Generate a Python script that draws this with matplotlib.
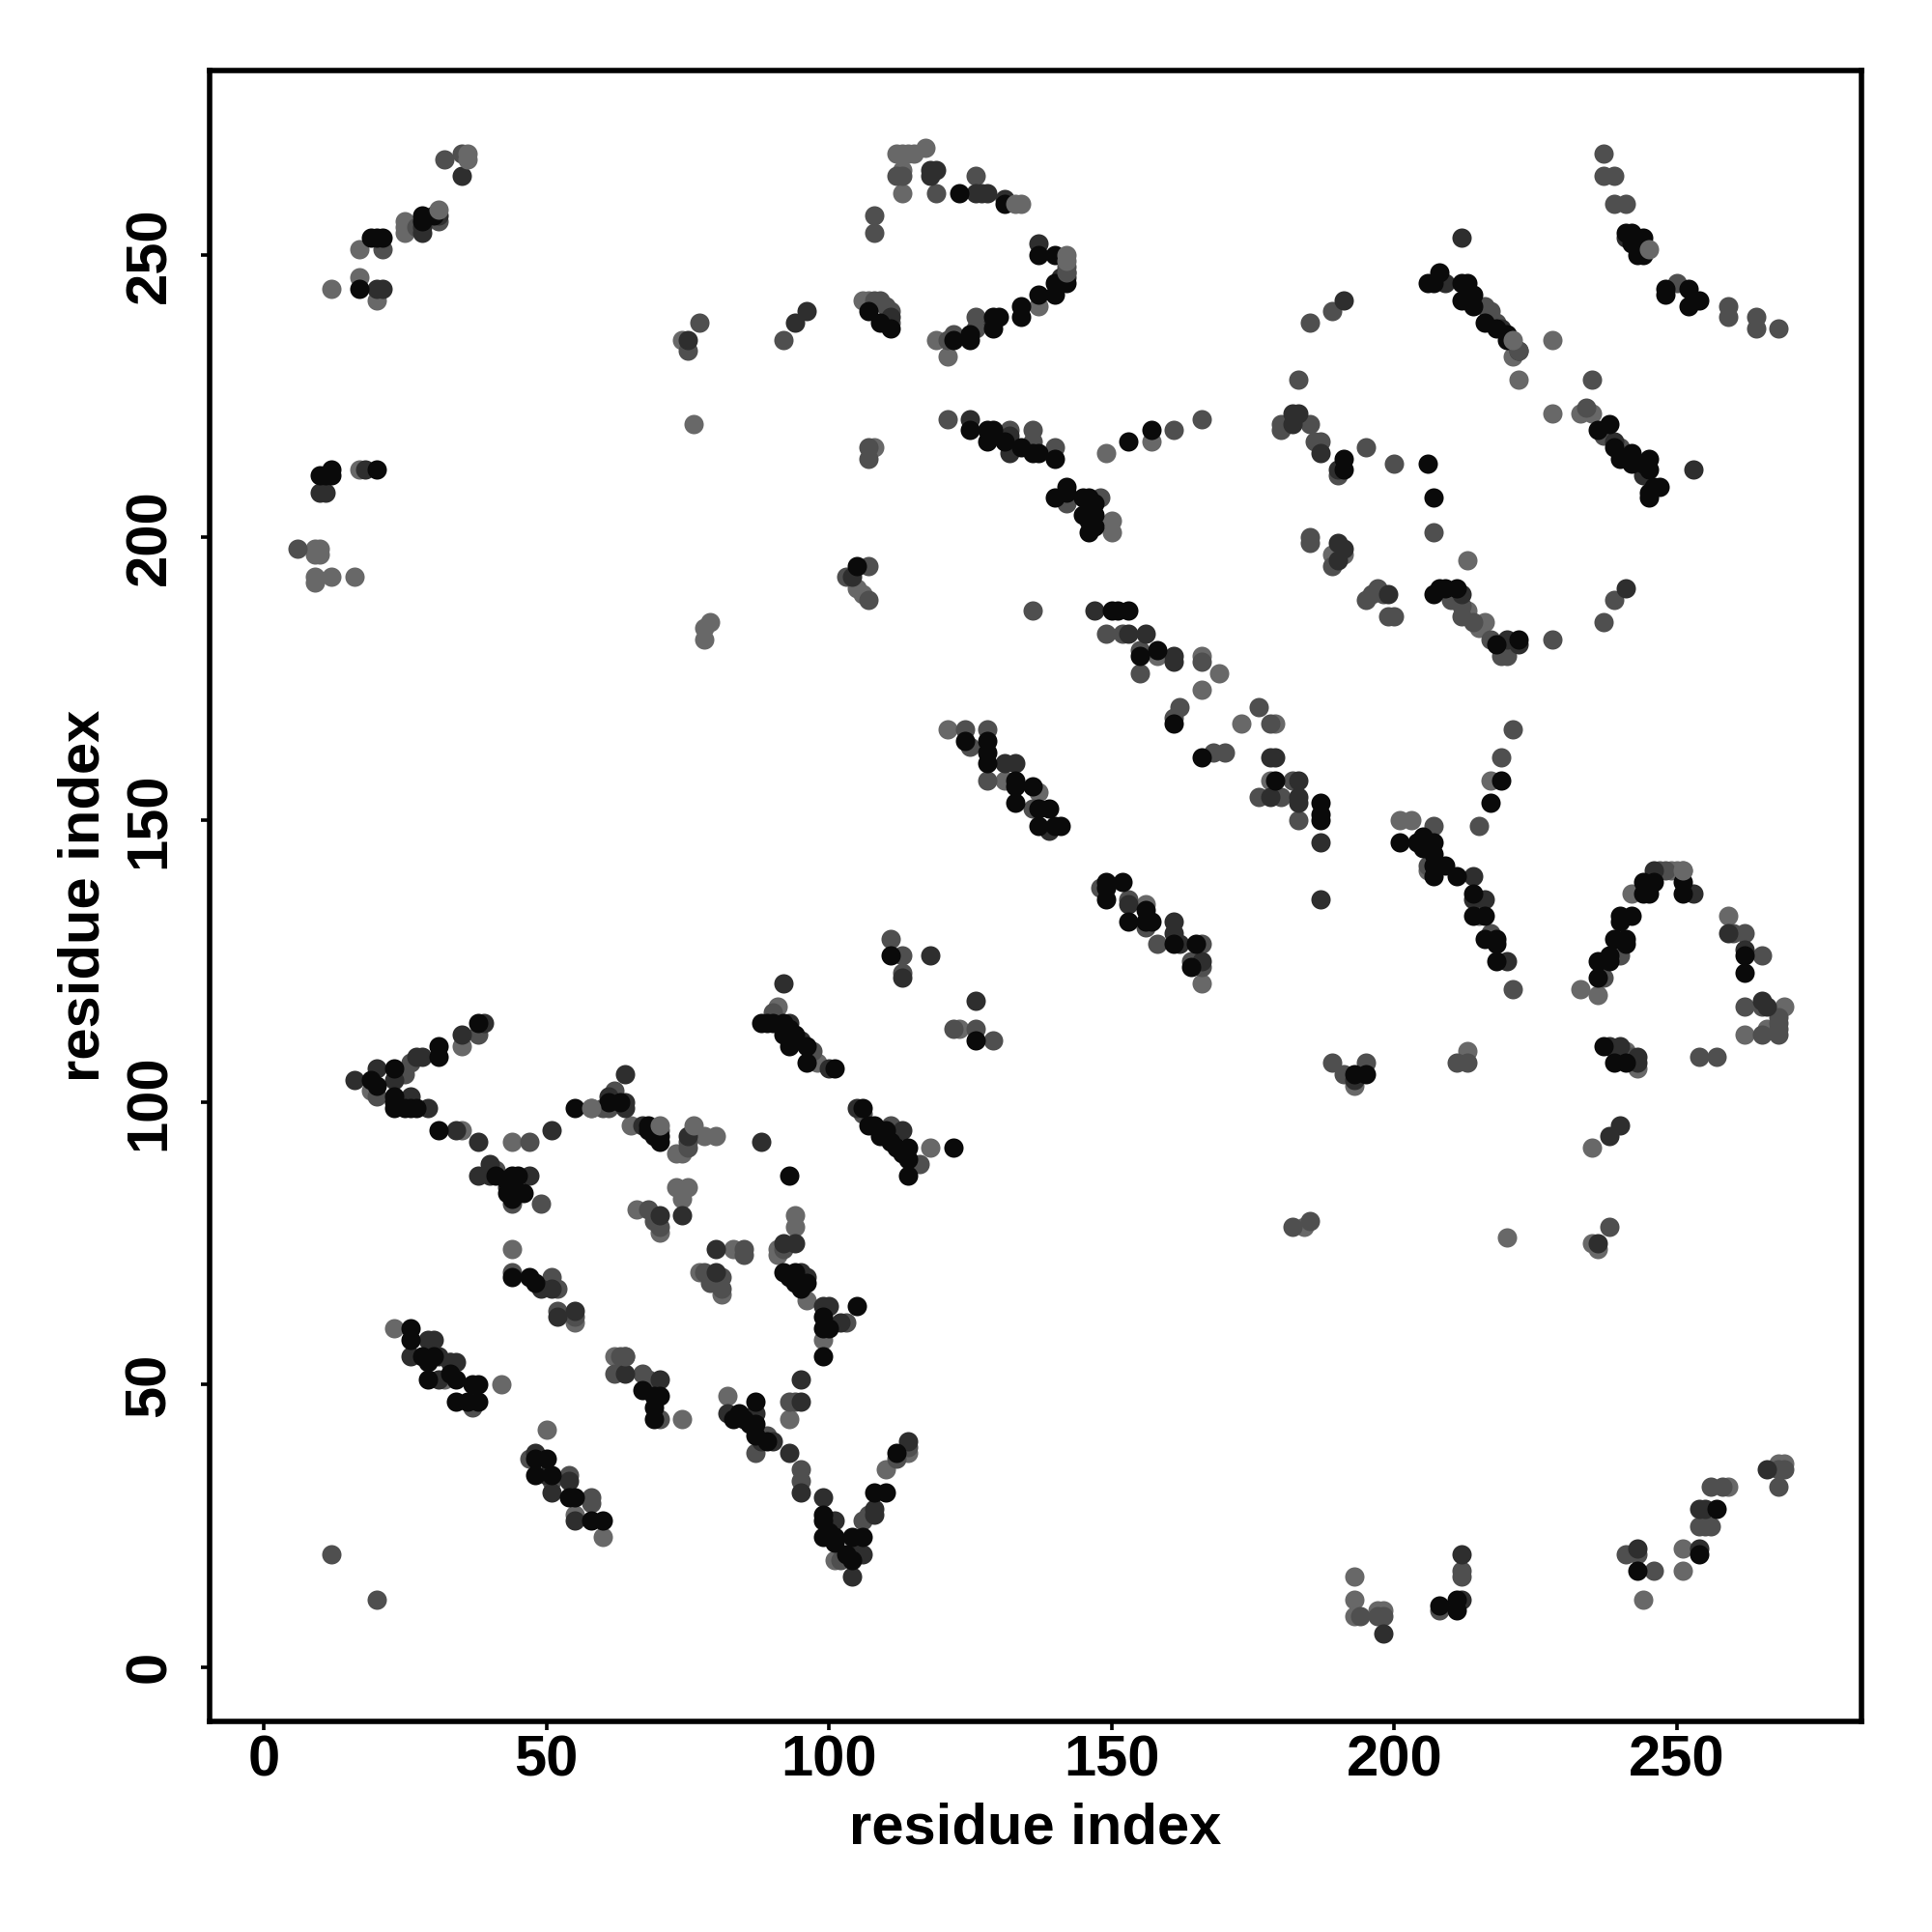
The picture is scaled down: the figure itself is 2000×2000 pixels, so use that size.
import matplotlib
matplotlib.use("Agg")
import matplotlib.pyplot as plt

light = [(12,244),(17,246),(20,242),(17,251),(25,254),(25,256),(25,255),(9,198),(10,198),(9,197),(10,197),(9,193),(9,192),(12,193),(16,193),(17,212),
(74,235),(76,220),(78,182),(78,184),(79,185),(112,268),(113,268),(114,268),(115,268),(117,269),(113,265),(113,261),(134,259),(106,242),(107,242),(119,235),(121,232),(137,241),(136,216),
(105,191),(106,190),(157,217),(150,203),(150,201),(149,215),(108,216),(221,232),(228,235),(222,228),(228,222),(233,222),(235,222),(213,196),(189,197),(191,197),(213,187),(215,184),(216,185),
(158,179),(166,179),(169,176),(166,173),(173,167),(179,167),(178,157),(121,166),(131,157),(137,155),(156,135),(166,121),(201,150),(203,150),(206,141),(217,157),(215,133),(233,120),(236,119),(242,137),
(249,141),(250,141),(251,141),(259,133),(269,117),(262,112),(266,113),(241,109),(243,106),(235,92),(235,75),(236,74),(220,76),(213,109),(193,103),(184,78),
(19,102),(35,95),(35,110),(44,93),(58,99),(65,96),(73,91),(74,91),(78,94),(80,94),(73,85),(75,85),(74,83),(66,81),(70,77),(44,74),(55,61),(77,70),(81,66),(83,74),(91,74),(91,73),(94,78),(94,80),(96,65),
(99,58),(23,60),(32,51),(42,50),(62,55),(74,44),(82,48),(93,44),(101,19),(110,35),(114,38),(55,27),(60,23),(50,42),(193,16),(193,12),(193,9),(197,10),(198,10),(244,12),(251,21),(251,17),(259,32),(268,36),(269,36),
(91,117),(98,107),(118,92),(123,113)]

mid = [(21,251),(27,255),(31,256),(32,267),(35,268),(6,198),(75,233),(77,238),(92,235),(112,264),(113,264),(119,261),(126,264),(108,257),(108,254),(108,242),(109,242),(110,241),(111,240),(111,238),(121,235),(122,236),(126,237),(126,239),
(142,247),(142,248),(121,221),(132,219),(136,217),(140,216),(136,187),(161,219),(166,221),(142,206),(148,207),(107,216),(107,214),(103,193),(107,195),(107,189),(237,268),(237,264),(239,264),(239,259),(241,259),(250,245),(259,241),(259,239),(264,239),(264,237),(268,237),
(216,241),(217,240),(218,238),(189,240),(185,238),(183,228),(180,220),(180,219),(185,220),(186,217),(187,217),(190,211),(195,216),(200,213),(234,223),(235,228),(237,218),(240,216),(207,201),(185,200),(185,199),(189,195),(195,189),(196,190),(197,191),(198,190),(199,186),(200,186),
(210,189),(212,188),(212,186),(214,185),(217,182),(219,180),(219,179),(220,179),(228,182),(237,185),(239,189),(149,183),(152,183),(155,180),(155,176),(166,178),(162,170),(161,168),(176,170),(178,167),(168,162),(170,162),(182,157),(176,154),(180,154),(183,150),
(124,166),(125,163),(128,166),(128,157),(136,152),(148,138),(153,136),(156,131),(158,128),(166,128),(164,125),(166,124),(207,149),(206,142),(221,166),(219,161),(215,149),(217,130),(221,120),(237,122),(240,129),(240,126),(247,141),(248,141),(260,130),(262,130),(265,126),(262,117),(265,117),(265,112),(268,112),(268,113),(268,114),(268,115),
(242,108),(254,108),(257,108),(238,78),(211,107),(213,107),(189,107),(191,105),(195,107),(182,78),(185,79),(20,101),(25,105),(26,107),(38,112),(41,88),(44,82),(49,82),(47,93),(60,99),(62,102),(61,99),(69,95),(70,95),(75,92),(75,93),(68,81),(69,79),(70,78),
(44,70),(51,69),(52,67),(52,63),(55,62),(78,70),(79,68),(81,69),(81,67),(85,74),(85,73),(92,74),(94,47),(93,47),(103,61),(33,54),(37,46),(63,55),(64,55),(62,52),(67,52),(68,51),(70,44),(87,38),(89,41),(95,35),(95,33),(102,19),(106,26),(107,27),(112,37),(114,39),
(47,37),(51,33),(54,34),(58,30),(58,29),(12,20),(20,12),(194,9),(198,9),(197,9),(208,10),(212,16),(212,17),(241,20),(243,20),(246,17),(254,25),(255,25),(256,25),(256,32),(258,32),(268,35),(269,35),(268,32),(90,116),(97,109),(106,98),(111,96),(116,89),(111,129),(113,126),(113,123),(122,113),(126,113),(129,111)]

dark = [(20,244),(21,244),(28,254),(31,257),(35,264),(28,255),(10,208),(11,208),(18,212),(75,235),(94,238),(96,240),(118,265),(119,265),(118,264),(126,261),(127,261),(128,261),(131,260),(111,239),(129,238),(141,246),(142,246),(137,252),(125,221),(132,218),(132,215),(104,193),
(241,253),(253,242),(212,253),(209,245),(219,237),(222,233),(191,242),(182,222),(183,222),(182,220),(187,215),(190,212),(239,217),(244,211),(253,212),(190,199),(191,198),(190,196),(199,190),(212,190),(220,182),(222,181),(241,191),
(147,187),(153,183),(156,183),(161,179),(161,178),(178,161),(179,161),(183,157),(178,154),(183,154),(183,153),(187,146),(187,136),(131,160),(133,160),(139,148),(153,135),(161,132),(161,130),(162,128),(166,125),(214,140),(214,136),(216,136),(220,125),(246,141),(253,137),
(259,130),(262,127),(265,118),(266,117),(240,110),(238,110),(243,107),(243,108),(238,94),(240,96),(236,75),(193,104),(16,104),(20,106),(23,104),(26,101),(29,99),(27,108),(28,108),(34,95),(38,93),(38,87),(40,89),(43,85),(47,87),(40,87),(51,95),(61,101),(64,100),(64,99),(64,105),(67,96),(75,94),(88,93),(74,80),(70,80),
(35,112),(39,114),(51,67),(49,67),(52,62),(55,63),(80,70),(80,74),(92,75),(94,75),(95,70),(96,69),(99,64),(100,64),(102,61),(95,51),(95,47),(26,55),(29,58),(30,58),(31,55),(33,54),(34,54),(31,51),(64,52),(70,51),(82,45),(87,45),(88,40),(90,40),(93,38),(95,31),(99,30),(101,26),(104,16),(106,20),(105,22),(108,27),(108,28),(114,40),
(48,38),(50,34),(51,31),(54,33),(55,26),(198,6),(212,12),(212,20),(243,21),(254,21),(254,28),(255,28),(266,35),(92,121),(93,114),(95,111),(100,106),(105,99),(113,95),(113,122),(118,126),(126,118)]

black = [(17,244),(19,253),(21,253),(20,253),(28,256),(28,257),(30,257),(10,211),(11,211),(12,212),(12,211),(20,212),(123,261),(131,259),(107,240),(109,238),(111,237),(122,235),(125,235),(125,236),(129,237),(129,239),(130,239),(134,239),(134,241),
(137,243),(140,243),(140,245),(142,245),(140,250),(137,250),(125,219),(128,219),(129,219),(128,217),(131,217),(134,216),(136,215),(137,215),(140,214),(153,217),(157,219),(140,207),(142,209),(142,208),(145,207),(146,207),(147,206),(147,204),(146,203),(145,204),(146,201),(147,202),(105,195),
(241,254),(242,254),(242,252),(244,253),(244,252),(244,250),(243,250),(248,244),(248,243),(252,244),(252,241),(254,242),(208,247),(206,245),(207,245),(212,245),(213,245),(212,242),(214,243),(214,241),(216,238),(218,237),(220,235),(220,236),(191,214),(191,212),(206,213),(236,219),(238,220),(239,216),(240,214),(242,215),(242,213),(244,213),(245,212),(245,214),(246,209),(245,208),(245,207),(247,209),(207,207),
(207,190),(208,191),(209,191),(211,191),(218,181),(222,182),(150,187),(151,187),(153,187),(155,179),(158,180),(161,167),(166,161),(179,157),(187,153),(187,150),(187,151),(124,164),(128,164),(128,162),(128,160),(133,156),(133,157),(133,153),(136,156),(137,152),(139,152),(137,149),(140,149),(141,149),
(149,139),(149,138),(152,139),(149,136),(156,134),(153,132),(156,132),(157,132),(161,128),(165,128),(164,124),(201,146),(204,146),(205,147),(205,145),(207,146),(207,144),(207,142),(209,142),(207,140),(219,157),(217,153),(211,140),(214,137),(214,133),(216,133),(216,129),(218,129),(218,128),(218,125),
(236,122),(236,125),(238,125),(238,126),(239,129),(241,129),(241,128),(240,133),(242,133),(240,132),(244,137),(244,139),(245,137),(246,139),(251,139),(251,137),(262,126),(262,123),(237,110),(239,107),(241,107),(193,105),(195,105),
(19,104),(20,103),(23,106),(23,101),(23,100),(23,99),(25,99),(26,99),(27,99),(31,110),(31,108),(38,114),(31,95),(41,87),(43,86),(44,87),(45,87),(43,84),(44,83),(45,84),(46,84),(55,99),(61,100),(63,100),(68,95),(68,96),(69,94),(70,93),(70,94),(93,87),(44,69),(47,69),(48,68),
(92,70),(94,70),(93,69),(94,68),(95,67),(96,68),(99,62),(99,60),(100,60),(99,55),(105,64),(26,60),(26,58),(28,55),(30,55),(29,54),(29,51),(33,52),(34,51),(34,47),(37,50),(36,47),(38,47),(38,50),(67,49),(69,48),(70,48),(69,46),(69,44),
(83,44),(84,45),(85,44),(86,43),(87,47),(87,43),(87,41),(89,40),(99,27),(99,26),(100,24),(99,23),(101,23),(101,22),(103,20),(104,19),(104,23),(106,23),(108,31),(110,31),(112,38),(48,37),(48,34),(50,37),(51,34),(54,30),(55,30),(58,26),(60,26),(208,11),(211,10),(211,12),(243,17),(254,20),(257,28),
(88,114),(89,114),(90,114),(92,114),(92,112),(93,113),(94,112),(93,110),(96,110),(96,107),(101,106),(106,99),(107,96),(108,96),(109,94),(110,95),(111,93),(112,92),(113,91),(114,92),(114,90),(114,87),(122,92),(111,126),(126,111)]

top_light = [(36,268),(36,267),(31,258),(142,250),(142,249),(245,251),(221,235),(133,259),(251,141),(58,99),(76,96),(70,96)]
top_mid = [(222,233),(136,219),(64,55),(142,247)]

GRAYS = {"light": "#686868", "mid": "#4f4f4f", "dark": "#2e2e2e", "black": "#0a0a0a"}
xticks = [0, 50, 100, 150, 200, 250]
axis_label = "residue index"

plt.rcParams["font.family"] = ["Liberation Sans", "DejaVu Sans"]
fig = plt.figure(figsize=(10, 10), dpi=200, facecolor="white")
ax = fig.add_axes([0.1084, 0.109, 0.8552, 0.8546])

for pts, key in [(light, "light"), (mid, "mid"), (dark, "dark"), (black, "black"),
                 (top_mid, "mid"), (top_light, "light")]:
    ax.scatter([p[0] for p in pts], [p[1] for p in pts], s=52, c=GRAYS[key], linewidths=0, zorder=3)

ax.set_xlim(-9.6, 282.7)
ax.set_ylim(-9.6, 282.7)
ax.set_xticks(xticks)
ax.set_yticks(xticks)
for s in ax.spines.values():
    s.set_linewidth(2.0)
ax.tick_params(axis="both", length=3.2, width=1.3)
ax.tick_params(axis="x", labelsize=21.5, pad=1.5)
ax.tick_params(axis="y", labelsize=21.5, pad=9)
for t in ax.get_xticklabels():
    t.set_fontweight("bold")
for t in ax.get_yticklabels():
    t.set_fontweight("bold")
    t.set_rotation(90)
    t.set_va("center")
ax.set_xlabel(axis_label, fontsize=21.5, fontweight="bold", labelpad=5.5)
ax.set_ylabel(axis_label, fontsize=21.5, fontweight="bold", labelpad=5)
fig.savefig("out.png", dpi=200, facecolor="white")
